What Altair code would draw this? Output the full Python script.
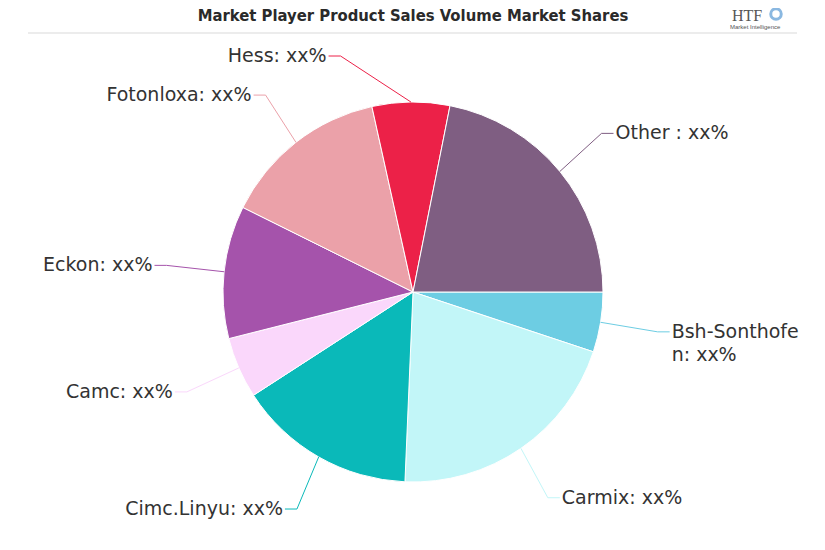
import math
import textwrap
import altair as alt
import pandas as pd

# ---- data ----
companies = ["Bsh-Sonthofen", "Carmix", "Cimc.Linyu", "Camc", "Eckon", "Fotonloxa", "Hess", "Other "]
shares = [5.1, 20.6, 15.2, 5.2, 11.3, 14.2, 6.6, 21.9]
value_text = "xx%"
colors = ["#6dcde3", "#c2f6f8", "#0ab9b9", "#fad7fb", "#a553ab", "#eba1a9", "#ec2148", "#7f5e82"]
title_text = "Market Player Product Sales Volume Market Shares"
logo_text = "HTF"
logo_sub = "Market Intelligence"

# ---- layout ----
W, H = 809, 534
CX, CY, R = 405, 284, 190
LBL_RY, LBL_RX, LBL_TOP = R + 60, R + 72, R + 46
FS = 19
TEXT_COLOR = "#333333"

total = sum(shares)
pie = pd.DataFrame({"name": companies, "share": shares, "idx": list(range(len(companies)))})

# label / connector geometry derived from the shares
line_rows, lab_rows = [], []
cum = 0.0
for i, (n, s) in enumerate(zip(companies, shares)):
    a = 2 * math.pi * (cum + s / 2) / total  # clockwise from 3 o'clock
    cum += s
    side = 1 if math.cos(a) >= 0 else -1
    dy = max(LBL_RY * math.sin(a), -LBL_TOP)
    ly = CY + dy
    ax = CX + side * LBL_RX * math.sqrt(max(0.0, 1 - (dy / LBL_RY) ** 2))
    ex, ey = CX + R * math.cos(a), CY + R * math.sin(a)
    pts = [(ex, ey), (ax - side * 14, ly), (ax - side * 2, ly)]
    for k, (px, py) in enumerate(pts):
        line_rows.append({"name": n, "px": px, "py": py, "k": k})
    label = f"{n}: {value_text}"
    est_w = len(label) * 0.55 * FS
    if side > 0 and ax + est_w > W:
        label = "\n".join(textwrap.wrap(label, width=12, break_on_hyphens=False))
    lab_rows.append({"name": n, "px": ax, "py": ly, "label": label, "side": side})

lines = pd.DataFrame(line_rows)
labs = pd.DataFrame(lab_rows)

xs = alt.Scale(domain=[0, W], range=[0, W], nice=False, zero=False)
ys = alt.Scale(domain=[0, H], range=[0, H], nice=False, zero=False)
cscale = alt.Scale(domain=companies, range=colors)

arcs = alt.Chart(pie).mark_arc(radius=R, stroke="white", strokeWidth=1).encode(
    theta=alt.Theta("share:Q", stack=True, scale=alt.Scale(range=[math.pi / 2, math.pi / 2 + 2 * math.pi])),
    color=alt.Color("name:N", scale=cscale, legend=None),
    order=alt.Order("idx:Q"),
    x=alt.value(CX),
    y=alt.value(CY),
)

conn = alt.Chart(lines).mark_line(strokeWidth=1).encode(
    x=alt.X("px:Q", scale=xs, axis=None),
    y=alt.Y("py:Q", scale=ys, axis=None),
    color=alt.Color("name:N", scale=cscale, legend=None),
    detail="name:N",
    order="k:Q",
)

def text_layer(side, align):
    return alt.Chart(labs[labs["side"] == side]).mark_text(
        align=align, baseline="middle", font="DejaVu Sans", fontSize=FS,
        color=TEXT_COLOR, lineBreak="\n", lineHeight=23,
    ).encode(
        x=alt.X("px:Q", scale=xs, axis=None),
        y=alt.Y("py:Q", scale=ys, axis=None),
        text="label:N",
    )

left_txt = text_layer(-1, "right")
right_txt = text_layer(1, "left")

title = alt.Chart(pd.DataFrame({"t": [title_text]})).mark_text(
    font="DejaVu Sans Condensed, DejaVu Sans, sans-serif", fontWeight="bold", fontSize=16.5,
    color="#2a2a2a", align="center", baseline="middle",
).encode(text="t:N", x=alt.value(405), y=alt.value(8))

rule = alt.Chart(pd.DataFrame({"a": [0]})).mark_rule(color="#d9d9d9", strokeWidth=1).encode(
    x=alt.value(20), x2=alt.value(789), y=alt.value(25)
)

logo = alt.Chart(pd.DataFrame({"t": [logo_text]})).mark_text(
    font="Liberation Serif", fontSize=16, color="#555555", align="left", baseline="middle"
).encode(text="t:N", x=alt.value(724), y=alt.value(8))
logo2 = alt.Chart(pd.DataFrame({"t": [logo_sub]})).mark_text(
    font="Liberation Sans", fontSize=6, color="#555555", align="left", baseline="middle"
).encode(text="t:N", x=alt.value(722), y=alt.value(19))
logo3 = alt.Chart(pd.DataFrame({"t": [1]})).mark_point(
    shape="circle", filled=False, color="#5a9bd5", size=110, strokeWidth=3
).encode(x=alt.value(768), y=alt.value(6))

chart = alt.layer(arcs, conn, left_txt, right_txt, title, rule, logo, logo2, logo3).properties(
    width=W, height=H, autosize=alt.AutoSizeParams(type="none"), padding=0,
    background="white",
).configure_view(stroke=None)

chart.save("out.html", embed_options={"renderer": "svg", "actions": False})
